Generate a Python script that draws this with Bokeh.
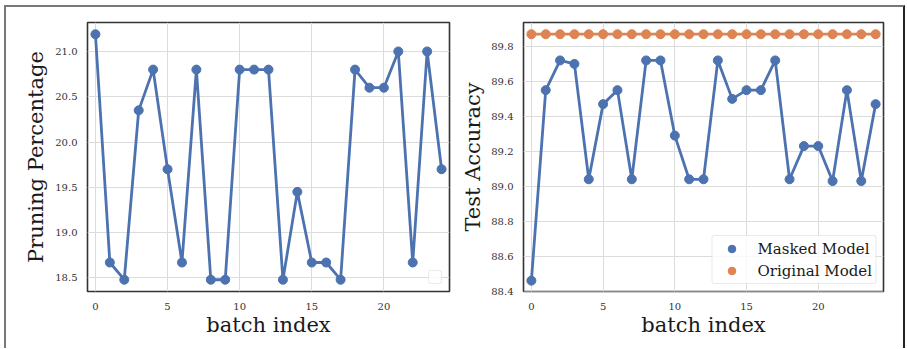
from bokeh.plotting import figure
from bokeh.layouts import row
from bokeh.models import Range1d, Legend, LegendItem, FixedTicker, ColumnDataSource, PrintfTickFormatter
from bokeh.embed import file_html
from bokeh.resources import INLINE

batch_index = list(range(25))
pruning_pct = [21.19, 18.67, 18.48, 20.35, 20.80, 19.70, 18.67, 20.80, 18.48, 18.48,
               20.80, 20.80, 20.80, 18.48, 19.45, 18.67, 18.67, 18.48, 20.80, 20.60,
               20.60, 21.00, 18.67, 21.00, 19.70]
masked_acc = [88.46, 89.55, 89.72, 89.70, 89.04, 89.47, 89.55, 89.04, 89.72, 89.72,
              89.29, 89.04, 89.04, 89.72, 89.50, 89.55, 89.55, 89.72, 89.04, 89.23,
              89.23, 89.03, 89.55, 89.03, 89.47]
original_acc = [89.87] * 25
x_ticks = [0, 5, 10, 15, 20]
left_y_ticks = [18.5, 19.0, 19.5, 20.0, 20.5, 21.0]
right_y_ticks = [88.4, 88.6, 88.8, 89.0, 89.2, 89.4, 89.6, 89.8]

BLUE = "#4c72b0"
ORANGE = "#dd8452"
FONT = "DejaVu Serif"


def style(p, yticks, xlab, ylab, ylab_standoff):
    p.xaxis.ticker = FixedTicker(ticks=x_ticks)
    p.yaxis.ticker = FixedTicker(ticks=yticks)
    p.yaxis.formatter = PrintfTickFormatter(format="%.1f")
    for ax in (p.xaxis[0], p.yaxis[0]):
        ax.major_tick_in = 0
        ax.major_tick_out = 0
        ax.minor_tick_in = 0
        ax.minor_tick_out = 0
        ax.axis_line_color = None
        ax.major_label_text_font = FONT
        ax.major_label_text_font_size = "10px"
        ax.major_label_text_color = "#333333"
        ax.axis_label_text_font = FONT
        ax.axis_label_text_font_size = "21px"
        ax.axis_label_text_font_style = "normal"
        ax.axis_label_text_color = "#1a1a1a"
    p.xaxis.axis_label = xlab
    p.yaxis.axis_label = ylab
    p.xaxis.major_label_standoff = 11
    p.yaxis.major_label_standoff = 10
    p.xaxis.axis_label_standoff = 0
    p.yaxis.axis_label_standoff = ylab_standoff
    p.xgrid.ticker = FixedTicker(ticks=x_ticks)
    p.ygrid.ticker = FixedTicker(ticks=yticks)
    p.grid.grid_line_color = "#dcdcdc"
    p.grid.grid_line_width = 1
    p.outline_line_color = "#333333"
    p.outline_line_width = 1.6
    p.background_fill_color = "white"
    p.border_fill_color = "white"


# Left: pruning percentage
p1 = figure(width=452, height=341, output_backend="svg", toolbar_location=None,
            x_range=Range1d(-0.55, 24.55), y_range=Range1d(18.35, 21.32),
            min_border_left=81, min_border_right=9, min_border_top=15, min_border_bottom=57)
style(p1, left_y_ticks, "batch index", "Pruning Percentage", 4)
src1 = ColumnDataSource(dict(x=batch_index, y=pruning_pct))
p1.line("x", "y", source=src1, line_color=BLUE, line_width=2.8)
p1.scatter("x", "y", source=src1, size=9, fill_color=BLUE, line_color=BLUE)
dummy = p1.scatter([], [], size=1, fill_alpha=0, line_alpha=0)
leg1 = Legend(items=[LegendItem(label=" ", renderers=[dummy])], location="bottom_right",
              margin=7, padding=5, glyph_width=2, glyph_height=2, label_height=2,
              label_width=0, label_standoff=0, spacing=0,
              label_text_font_size="1px",
              border_line_color="#d5d5d5", border_line_width=1,
              background_fill_color="white", background_fill_alpha=0.8)
if "border_radius" in Legend.properties():
    leg1.border_radius = 3
p1.add_layout(leg1)

# Right: test accuracy
p2 = figure(width=445, height=341, output_backend="svg", toolbar_location=None,
            x_range=Range1d(-0.55, 24.55), y_range=Range1d(88.398, 89.937),
            min_border_left=61, min_border_right=20, min_border_top=15, min_border_bottom=57)
style(p2, right_y_ticks, "batch index", "Test Accuracy", 3)
src2 = ColumnDataSource(dict(x=batch_index, m=masked_acc, o=original_acc))
p2.line("x", "m", source=src2, line_color=BLUE, line_width=2.8)
r_m = p2.scatter("x", "m", source=src2, size=9, fill_color=BLUE, line_color=BLUE)
p2.line("x", "o", source=src2, line_color=ORANGE, line_width=2.8)
r_o = p2.scatter("x", "o", source=src2, size=9, fill_color=ORANGE, line_color=ORANGE)
leg2 = Legend(items=[LegendItem(label="Masked Model", renderers=[r_m]),
                     LegendItem(label="Original Model", renderers=[r_o])],
              location="bottom_right", margin=7, padding=3, glyph_width=32,
              glyph_height=19, label_height=19, label_standoff=10, spacing=3,
              label_text_font=FONT, label_text_font_size="15px", label_text_color="#1a1a1a",
              border_line_color="#d5d5d5", border_line_width=1,
              background_fill_color="white", background_fill_alpha=0.8)
if "border_radius" in Legend.properties():
    leg2.border_radius = 3
p2.add_layout(leg2)

layout = row(p1, p2, spacing=0,
             styles={"border-top": "2px solid #777777", "border-left": "2px solid #777777",
                     "border-right": "2px solid #222222", "margin-left": "4px",
                     "margin-top": "5px"})

open("out.html", "w").write(file_html(layout, INLINE))
